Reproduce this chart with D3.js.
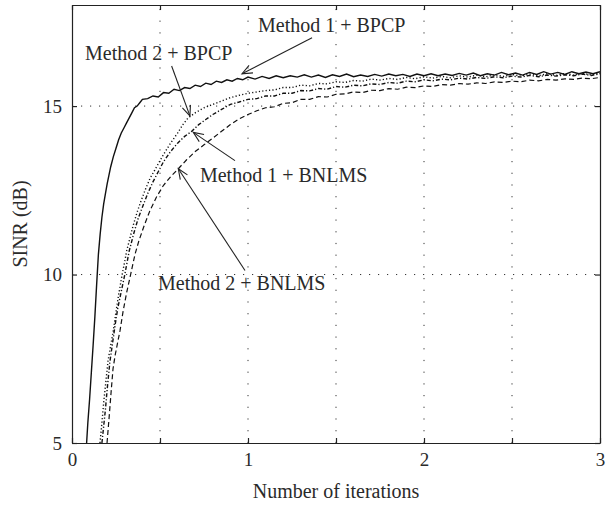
<!DOCTYPE html>
<html>
<head>
<meta charset="utf-8">
<script src="https://cdnjs.cloudflare.com/ajax/libs/d3/7.8.5/d3.min.js"></script>
<style>
  body { margin: 0; background: #fff; }
  text { font-family: "Liberation Serif", "DejaVu Serif", serif; fill: #2a2a2a; }
</style>
</head>
<body>
<div id="plot"></div>
<script>
// Data: [number of iterations, SINR in dB]
var method1Bpcp = [
  [0.083,5.0],[0.09,5.6],[0.1,6.3],[0.11,7.1],[0.12,7.9],[0.13,8.75],[0.14,9.7],[0.15,10.6],
  [0.16,11.2],[0.17,11.7],[0.18,12.1],[0.19,12.4],[0.2,12.7],[0.21,12.95],[0.22,13.2],[0.235,13.5],
  [0.25,13.75],[0.265,14.0],[0.28,14.2],[0.295,14.35],[0.31,14.5],[0.325,14.65],[0.34,14.8],
  [0.355,14.95],[0.37,15.0],[0.385,15.1],[0.4,15.2],[0.43,15.22],[0.46,15.3],[0.49,15.27],
  [0.52,15.4],[0.55,15.38],[0.58,15.5],[0.61,15.46],[0.64,15.55],[0.67,15.52],[0.7,15.62],
  [0.73,15.58],[0.76,15.68],[0.79,15.64],[0.82,15.74],[0.85,15.7],[0.88,15.78],[0.91,15.74],
  [0.94,15.82],[0.97,15.78],[1.0,15.86],[1.04,15.8],[1.08,15.88],[1.12,15.82],[1.16,15.9],
  [1.2,15.84],[1.24,15.9],[1.28,15.86],[1.32,15.93],[1.36,15.86],[1.4,15.92],[1.44,15.85],
  [1.48,15.93],[1.52,15.88],[1.56,15.95],[1.6,15.87],[1.64,15.92],[1.68,15.88],[1.72,15.94],
  [1.76,15.89],[1.8,15.95],[1.84,15.9],[1.88,15.94],[1.92,15.88],[1.96,15.95],[2.0,15.9],
  [2.04,15.96],[2.08,15.9],[2.12,15.95],[2.16,15.91],[2.2,15.97],[2.24,15.92],[2.28,15.98],
  [2.32,15.9],[2.36,15.96],[2.4,15.92],[2.44,16.0],[2.48,15.93],[2.52,15.98],[2.56,15.92],
  [2.6,16.0],[2.64,15.94],[2.68,16.02],[2.72,15.95],[2.76,16.0],[2.8,15.94],[2.84,16.02],
  [2.88,15.96],[2.92,16.01],[2.96,15.96],[3.0,16.02]
];

var method2Bpcp = [
  [0.159,5.0],[0.17,5.6],[0.18,6.2],[0.19,6.7],[0.205,7.45],[0.22,7.9],[0.235,8.34],[0.25,8.9],
  [0.265,9.4],[0.285,10.0],[0.3,10.4],[0.311,10.71],[0.33,11.1],[0.35,11.5],[0.37,11.85],
  [0.39,12.15],[0.415,12.5],[0.443,12.85],[0.47,13.1],[0.5,13.38],[0.53,13.65],[0.56,13.9],
  [0.6,14.2],[0.63,14.45],[0.66,14.65],[0.7,14.8],[0.75,14.95],[0.8,15.05],[0.85,15.15],
  [0.9,15.25],[0.95,15.32],[1.0,15.38],[1.05,15.42],[1.1,15.46],[1.15,15.48],[1.2,15.55],
  [1.25,15.55],[1.3,15.62],[1.35,15.6],[1.4,15.67],[1.45,15.66],[1.5,15.72],[1.55,15.7],
  [1.6,15.76],[1.65,15.74],[1.7,15.8],[1.75,15.77],[1.8,15.82],[1.85,15.79],[1.9,15.85],
  [1.95,15.81],[2.0,15.87],[2.05,15.83],[2.1,15.88],[2.15,15.84],[2.2,15.9],[2.25,15.86],
  [2.3,15.92],[2.35,15.87],[2.4,15.93],[2.45,15.88],[2.5,15.94],[2.55,15.89],[2.6,15.95],
  [2.65,15.9],[2.7,15.96],[2.75,15.91],[2.8,15.97],[2.85,15.92],[2.9,15.97],[2.95,15.93],
  [3.0,15.98]
];

var method1Bnlms = [
  [0.17,5.0],[0.18,5.5],[0.19,6.0],[0.2,6.6],[0.215,7.4],[0.23,7.95],[0.245,8.5],[0.26,9.0],
  [0.28,9.5],[0.3,10.0],[0.325,10.7],[0.35,11.2],[0.375,11.65],[0.4,12.0],[0.43,12.4],
  [0.46,12.75],[0.49,13.05],[0.52,13.35],[0.56,13.65],[0.6,13.9],[0.64,14.1],[0.68,14.25],
  [0.72,14.45],[0.76,14.6],[0.8,14.75],[0.85,14.9],[0.9,15.05],[0.95,15.12],[1.0,15.2],
  [1.05,15.22],[1.1,15.3],[1.15,15.3],[1.2,15.38],[1.25,15.38],[1.3,15.46],[1.35,15.45],
  [1.4,15.52],[1.45,15.5],[1.5,15.58],[1.55,15.56],[1.6,15.62],[1.65,15.6],[1.7,15.66],
  [1.75,15.64],[1.8,15.7],[1.85,15.68],[1.9,15.74],[1.95,15.72],[2.0,15.78],[2.05,15.75],
  [2.1,15.8],[2.15,15.78],[2.2,15.83],[2.25,15.8],[2.3,15.85],[2.35,15.82],[2.4,15.87],
  [2.45,15.84],[2.5,15.89],[2.55,15.86],[2.6,15.91],[2.65,15.87],[2.7,15.92],[2.75,15.89],
  [2.8,15.93],[2.85,15.9],[2.9,15.95],[2.95,15.91],[3.0,15.96]
];

var method2Bnlms = [
  [0.199,5.0],[0.21,5.7],[0.222,6.5],[0.233,7.2],[0.245,7.6],[0.26,8.0],[0.273,8.34],[0.29,8.9],
  [0.31,9.45],[0.333,10.0],[0.358,10.6],[0.38,11.0],[0.41,11.45],[0.443,11.9],[0.48,12.3],
  [0.52,12.65],[0.56,12.9],[0.604,13.14],[0.65,13.4],[0.7,13.65],[0.75,13.85],[0.8,14.05],
  [0.85,14.25],[0.9,14.45],[0.95,14.62],[1.0,14.75],[1.05,14.86],[1.1,14.95],[1.15,14.98],
  [1.2,15.08],[1.25,15.1],[1.3,15.2],[1.35,15.2],[1.4,15.28],[1.45,15.27],[1.5,15.35],
  [1.55,15.36],[1.6,15.42],[1.65,15.4],[1.7,15.47],[1.75,15.46],[1.8,15.52],[1.85,15.5],
  [1.9,15.56],[1.95,15.55],[2.0,15.6],[2.05,15.58],[2.1,15.64],[2.15,15.62],[2.2,15.67],
  [2.25,15.65],[2.3,15.69],[2.35,15.67],[2.4,15.72],[2.45,15.7],[2.5,15.74],[2.55,15.72],
  [2.6,15.77],[2.65,15.75],[2.7,15.79],[2.75,15.77],[2.8,15.81],[2.85,15.79],[2.9,15.83],
  [2.95,15.81],[3.0,15.85]
];

var xTicks = [0, 0.5, 1, 1.5, 2, 2.5, 3];
var xLabels = [0, 1, 2, 3];
var yTicks = [5, 10, 15];

// Annotation labels (left end of baseline) and arrow ends, in data units
var labelNames = ["Method 1 + BPCP", "Method 2 + BPCP", "Method 1 + BNLMS", "Method 2 + BNLMS"];
var labelAt = [[1.057, 17.2], [0.074, 16.38], [0.727, 12.74], [0.489, 9.53]];
var arrowFrom = [[1.364, 17.03], [0.566, 16.19], [0.926, 13.38], [0.983, 10.12]];
var arrowTo = [[0.966, 15.96], [0.67, 14.71], [0.689, 14.22], [0.604, 13.14]];

// Layout
var width = 608, height = 506;
var margin = { left: 72, right: 8, top: 5, bottom: 63 };

var svg = d3.select("#plot")
    .append("svg")
    .attr("width", width)
    .attr("height", height);

var x = d3.scaleLinear().domain([0, 3]).range([margin.left, width - margin.right]);
var y = d3.scaleLinear().domain([5, 18]).range([height - margin.bottom, margin.top]);

var x0 = x.range()[0], x1 = x.range()[1];
var y0 = y.range()[0], y1 = y.range()[1];

// Dotted grid
svg.append("g")
    .selectAll("line")
    .data(xTicks.slice(1, -1))
    .enter()
    .append("line")
    .attr("x1", d => x(d)).attr("x2", d => x(d))
    .attr("y1", y0).attr("y2", y1)
    .attr("stroke", "#333")
    .attr("stroke-width", 1)
    .attr("stroke-dasharray", "1.2,10.5");

svg.append("g")
    .selectAll("line")
    .data(yTicks.slice(1))
    .enter()
    .append("line")
    .attr("x1", x0).attr("x2", x1)
    .attr("y1", d => y(d)).attr("y2", d => y(d))
    .attr("stroke", "#333")
    .attr("stroke-width", 1)
    .attr("stroke-dasharray", "1.2,7.8");

// Curves
svg.append("clipPath").attr("id", "clip")
    .append("rect")
    .attr("x", x0).attr("y", y1)
    .attr("width", x1 - x0).attr("height", y0 - y1);

var line = d3.line().x(d => x(d[0])).y(d => y(d[1]));

var series = [
    { data: method1Bpcp, dash: null, w: 1.4 },
    { data: method2Bpcp, dash: "1.2,2.2", w: 1.4 },
    { data: method1Bnlms, dash: "4,2,1.2,2", w: 1.4 },
    { data: method2Bnlms, dash: "5,3", w: 1.2 }
];

svg.append("g")
    .attr("clip-path", "url(#clip)")
    .selectAll("path")
    .data(series)
    .enter()
    .append("path")
    .attr("d", d => line(d.data))
    .attr("fill", "none")
    .attr("stroke", "#111")
    .attr("stroke-width", d => d.w)
    .attr("stroke-dasharray", d => d.dash);

// Axes: box with inward ticks on all sides
var tickLen = 5;
var axisBottom = d3.axisBottom(x).tickValues(xTicks).tickSizeInner(-tickLen).tickSizeOuter(0)
    .tickPadding(10).tickFormat(d => xLabels.indexOf(d) >= 0 ? d3.format("d")(d) : "");
var axisTop = d3.axisTop(x).tickValues(xTicks).tickSizeInner(-tickLen).tickSizeOuter(0).tickFormat("");
var axisLeft = d3.axisLeft(y).tickValues(yTicks).tickSizeInner(-tickLen).tickSizeOuter(0)
    .tickPadding(10).tickFormat(d3.format("d"));
var axisRight = d3.axisRight(y).tickValues(yTicks).tickSizeInner(-tickLen).tickSizeOuter(0).tickFormat("");

function styleAxis(g) {
    g.select(".domain").attr("stroke", "#222").attr("stroke-width", 1.2);
    g.selectAll(".tick line").attr("stroke", "#222").attr("stroke-width", 1.2);
    g.selectAll(".tick text")
        .style("font-family", "'Liberation Serif', serif")
        .style("font-size", "19px")
        .attr("fill", "#2a2a2a");
}

svg.append("g").attr("transform", "translate(0," + y0 + ")").call(axisBottom).call(styleAxis);
svg.append("g").attr("transform", "translate(0," + y1 + ")").call(axisTop).call(styleAxis);
svg.append("g").attr("transform", "translate(" + x0 + ",0)").call(axisLeft).call(styleAxis);
svg.append("g").attr("transform", "translate(" + x1 + ",0)").call(axisRight).call(styleAxis);

// Axis titles
svg.append("text")
    .attr("x", (x0 + x1) / 2)
    .attr("y", 498)
    .attr("text-anchor", "middle")
    .style("font-size", "20px")
    .text("Number of iterations");

svg.append("text")
    .attr("transform", "translate(27," + (y0 + y1) / 2 + ") rotate(-90)")
    .attr("text-anchor", "middle")
    .style("font-size", "20px")
    .text("SINR (dB)");

// Annotations with open arrowheads
var ann = svg.append("g");

labelNames.forEach(function(name, i) {
    ann.append("text")
        .attr("x", x(labelAt[i][0]))
        .attr("y", y(labelAt[i][1]))
        .attr("text-anchor", "start")
        .style("font-size", "20px")
        .text(name);

    var fx = x(arrowFrom[i][0]), fy = y(arrowFrom[i][1]);
    var tx = x(arrowTo[i][0]), ty = y(arrowTo[i][1]);
    ann.append("line")
        .attr("x1", fx).attr("y1", fy)
        .attr("x2", tx).attr("y2", ty)
        .attr("stroke", "#222")
        .attr("stroke-width", 1.1);

    var ang = Math.atan2(fy - ty, fx - tx);
    var len = 11, spread = 0.4;
    ann.append("path")
        .attr("d", "M" + (tx + len * Math.cos(ang - spread)) + "," + (ty + len * Math.sin(ang - spread)) +
            "L" + tx + "," + ty +
            "L" + (tx + len * Math.cos(ang + spread)) + "," + (ty + len * Math.sin(ang + spread)))
        .attr("fill", "none")
        .attr("stroke", "#222")
        .attr("stroke-width", 1.1);
});
</script>
</body>
</html>
